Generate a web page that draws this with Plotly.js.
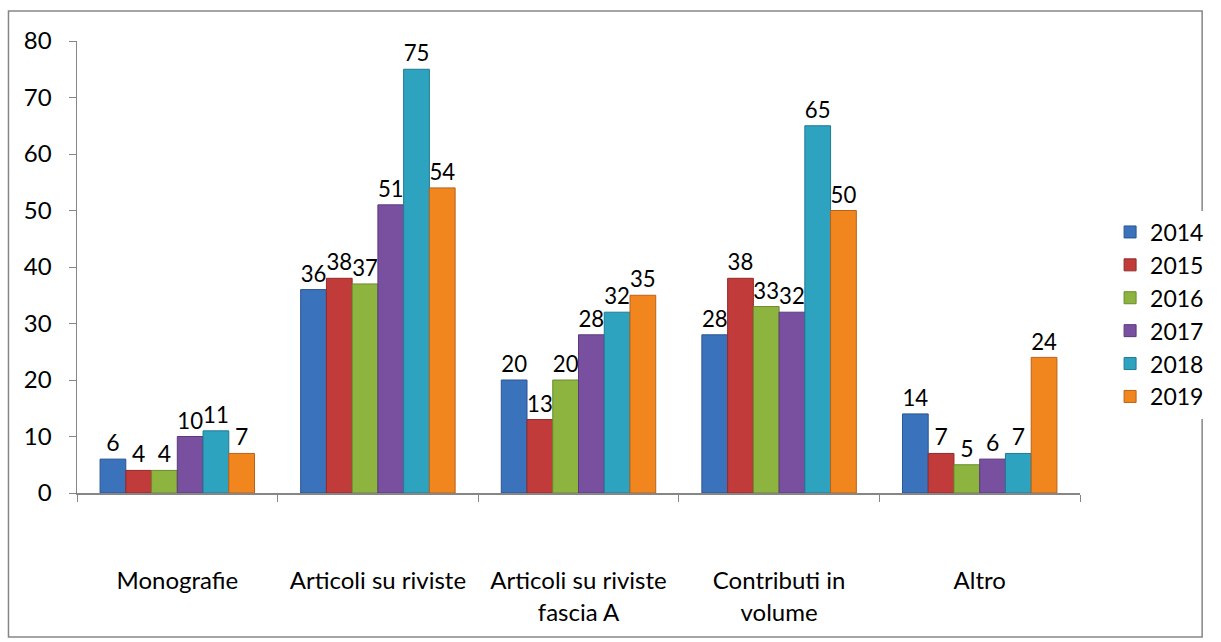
<!DOCTYPE html>
<html>
<head>
<meta charset="utf-8">
<script src="https://cdn.plot.ly/plotly-3.0.1.min.js"></script>
<style>html,body{margin:0;padding:0;background:#fff;}#chart{width:1221px;height:642px;}</style>
</head>
<body>
<div id="chart"></div>
<script>
const categories = ["Monografie", "Articoli su riviste", "Articoli su riviste<br>fascia A", "Contributi in<br>volume", "Altro"];
const years = ["2014", "2015", "2016", "2017", "2018", "2019"];
const v2014 = [6, 36, 20, 28, 14];
const v2015 = [4, 38, 13, 38, 7];
const v2016 = [4, 37, 20, 33, 5];
const v2017 = [10, 51, 28, 32, 6];
const v2018 = [11, 75, 32, 65, 7];
const v2019 = [7, 54, 35, 50, 24];
const series = [v2014, v2015, v2016, v2017, v2018, v2019];
const colors = ["#3B72BC", "#C13B3A", "#8DB43E", "#7950A0", "#2EA3C0", "#F1861F"];
const edges = ["#2B5590", "#922B2A", "#6A8A2C", "#5A3A7A", "#207A90", "#B8621A"];

const W = 1221, H = 642;
const m = {l: 77, r: 134, t: 41, b: 149};
const pw = W - m.l - m.r, ph = H - m.t - m.b;
const font = "Lato, 'Open Sans', sans-serif";
const fs = 24;

const traces = series.map((vals, i) => ({
  type: "bar",
  name: years[i],
  x: categories,
  y: vals,
  text: vals.map(String),
  textposition: "outside",
  cliponaxis: false,
  textfont: {family: font, size: 23, color: "#000"},
  marker: {color: colors[i], line: {color: edges[i], width: 1}},
  legendgroup: "g" + i,
  hoverinfo: "x+y+name"
}));

const layout = {
  width: W, height: H,
  margin: m,
  paper_bgcolor: "#fff",
  plot_bgcolor: "#fff",
  font: {family: font, size: fs, color: "#000"},
  barmode: "group",
  bargap: 0.23,
  bargroupgap: 0,
  showlegend: true,
  legend: {
    x: 1.03, y: 0.625, xanchor: "left", yanchor: "top",
    font: {family: font, size: 23, color: "#000"},
    tracegroupgap: 0,
    itemwidth: 30
  },
  xaxis: {
    type: "category",
    showgrid: false,
    showline: true, linecolor: "#868686", linewidth: 1.5,
    ticks: "outside", tickson: "boundaries", ticklen: 7, tickcolor: "#868686",
    tickfont: {family: font, size: fs, color: "#000"},
    ticklabelstandoff: 66,
    fixedrange: true
  },
  yaxis: {
    range: [0, 80],
    dtick: 10,
    showgrid: false, zeroline: false,
    showline: true, linecolor: "#868686", linewidth: 1.5,
    ticks: "outside", ticklen: 7, tickcolor: "#868686",
    tickfont: {family: font, size: fs, color: "#000"},
    ticklabelstandoff: 12,
    fixedrange: true
  },
  shapes: [{
    type: "rect", xref: "paper", yref: "paper", layer: "below",
    x0: (8 - m.l) / pw, x1: (1210 - m.l) / pw,
    y0: -(637 - (m.t + ph)) / ph, y1: 1 + (m.t - 11) / ph,
    line: {color: "#868686", width: 1.5}, fillcolor: "rgba(0,0,0,0)"
  }]
};

Plotly.newPlot("chart", traces, layout, {displayModeBar: false, staticPlot: true});
</script>
</body>
</html>
